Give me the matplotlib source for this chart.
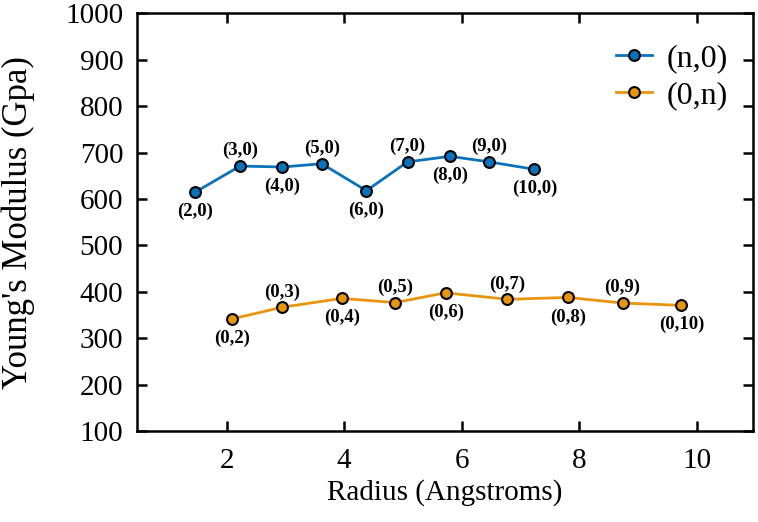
import matplotlib
matplotlib.use('Agg')
import matplotlib.pyplot as plt

# data
r_zig = [1.47, 2.23, 2.95, 3.62, 4.38, 5.08, 5.80, 6.47, 7.24]
y_zig = [615, 671, 669, 676, 618, 680, 692, 680, 664]
lab_zig = ['(2,0)', '(3,0)', '(4,0)', '(5,0)', '(6,0)', '(7,0)', '(8,0)', '(9,0)', '(10,0)']

r_arm = [2.10, 2.95, 3.96, 4.87, 5.73, 6.78, 7.81, 8.74, 9.74]
y_arm = [342, 367, 386, 377, 398, 384, 388, 376, 371]
lab_arm = ['(0,2)', '(0,3)', '(0,4)', '(0,5)', '(0,6)', '(0,7)', '(0,8)', '(0,9)', '(0,10)']

blue = '#0A72BA'
orange = '#E8950E'

plt.rcParams['font.family'] = ['Liberation Serif', 'DejaVu Serif']

fig = plt.figure(figsize=(7.58, 5.22), dpi=100)
ax = fig.add_axes([0.181, 0.174, 0.8125, 0.8005])

ax.plot(r_zig, y_zig, '-o', color=blue, lw=2, ms=7.8, mfc=blue, mec='black', mew=1.5, label='(n,0)')
ax.plot(r_arm, y_arm, '-o', color=orange, lw=2, ms=7.8, mfc=orange, mec='black', mew=1.5, label='(0,n)')

# labels alternate below / above the points
for series in [(r_zig, y_zig, lab_zig), (r_arm, y_arm, lab_arm)]:
    for i, (x, y, s) in enumerate(zip(*series)):
        dy = -14 if i % 2 == 0 else 11
        ax.annotate(s, (x, y), xytext=(0, dy), textcoords='offset points',
                    ha='center', va='center', fontsize=13.5, fontweight='bold')

ax.set_xlim(0.48, 10.96)
ax.set_ylim(100, 1000)
ax.set_xticks([2, 4, 6, 8, 10])
ax.set_yticks(range(100, 1001, 100))
ax.tick_params(direction='in', length=7, width=1.8, labelsize=21, pad=10,
               top=True, right=True)
ax.tick_params(axis='x', pad=12)
for sp in ax.spines.values():
    sp.set_linewidth(1.8)

ax.set_xlabel('Radius (Angstroms)', fontsize=21, labelpad=4)
ax.set_ylabel("Young's Modulus (Gpa)", fontsize=25, labelpad=22)

ax.legend(loc='upper right', frameon=False, fontsize=23, handlelength=1.15,
          handletextpad=0.45, borderaxespad=0, labelspacing=0.25,
          bbox_to_anchor=(0.98, 0.958))

fig.savefig('out.png', dpi=100)
